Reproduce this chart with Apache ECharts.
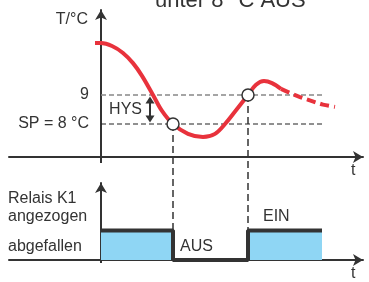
<!DOCTYPE html>
<html>
<head>
<meta charset="utf-8">
<script src="https://cdn.jsdelivr.net/npm/echarts@6/dist/echarts.min.js"></script>
<style>
  html, body { margin: 0; padding: 0; background: #fff; }
  #main { width: 369px; height: 282px; }
</style>
</head>
<body>
<div id="main"></div>
<script>
// Temperaturverlauf [t, T in °C]
var tempSolid = [
  [-0.6, 10.79], [0, 10.79], [1.1, 10.69], [2.2, 10.45], [3.2, 10.10], [4.1, 9.66],
  [5.2, 9.0], [6.1, 8.45], [7.2, 8.0], [8.7, 7.66], [10.2, 7.55], [11.4, 7.66],
  [12.4, 8.0], [13.6, 8.52], [14.7, 9.0], [15.5, 9.35], [16.3, 9.48], [17.1, 9.41], [18.0, 9.21]
];
var tempDashed = [[18.0, 9.21], [18.9, 9.07], [19.9, 8.93], [21.1, 8.79], [22.2, 8.67], [23.4, 8.59]];

var setPoint = 8;      // SP
var hysTop = 9;        // SP + HYS
var refEnd = 22.1;     // Ende der Hilfslinien
var tempTicks = [8, 9];
var tempTickText = ['SP = 8 °C', '9'];

// Schaltpunkte: AUS bei 8 °C, EIN bei 9 °C
var switchPoints = [[7.2, 8], [14.7, 9]];

// Relais K1: 1 = angezogen, 0 = abgefallen
var relay = [[0, 1], [7.2, 1], [7.2, 0], [14.7, 0], [14.7, 1], [22.1, 1]];
var relayTicks = [0.44, 1.48, 2.07];
var relayTickText = ['abgefallen', 'angezogen', 'Relais K1'];
var stateTexts = [
  { name: 'AUS', value: [7.9, 0.44] },
  { name: 'EIN', value: [16.2, 1.48] }
];
var hysLabel = [[4.9, 8.5]];
var hysArrow = [[4.9, 8.83], [4.9, 8.17]];

var font = '"Liberation Sans", Arial, sans-serif';
var ink = '#333';

var chart = echarts.init(document.getElementById('main'));

function xAxisCfg(grid, stub) {
  return {
    gridIndex: grid,
    type: 'value',
    min: -9.2,
    max: 26.2,
    splitLine: { show: false },
    axisLabel: { show: false },
    axisLine: {
      onZero: false,
      symbol: ['none', 'arrow'],
      symbolSize: [9, 10],
      lineStyle: { color: ink, width: 2 }
    },
    axisTick: { show: true, customValues: [0], length: stub, lineStyle: { color: ink, width: 2 } },
    name: 't',
    nameLocation: 'end',
    nameGap: -12,
    nameTextStyle: {
      color: ink, fontSize: 16, fontFamily: font,
      align: 'left', verticalAlign: 'top', padding: [6, 0, 0, 0]
    }
  };
}

function yAxisCfg(grid, min, max) {
  return {
    gridIndex: grid,
    type: 'value',
    min: min,
    max: max,
    offset: -92,   // Achse bei t = 0
    splitLine: { show: false },
    axisTick: { show: false },
    axisLine: {
      show: true,
      onZero: false,
      symbol: ['none', 'arrow'],
      symbolSize: [9, 10],
      lineStyle: { color: ink, width: 2 }
    }
  };
}

var yTemp = yAxisCfg(0, 6.862, 11.931);
yTemp.axisLabel = {
  customValues: tempTicks,
  margin: 12,
  color: ink,
  fontSize: 16,
  fontFamily: font,
  formatter: function (v) { return tempTickText[tempTicks.indexOf(v)]; }
};
yTemp.name = 'T/°C';
yTemp.nameLocation = 'end';
yTemp.nameGap = -10;
yTemp.nameTextStyle = {
  color: ink, fontSize: 16, fontFamily: font,
  align: 'right', verticalAlign: 'middle', padding: [0, 13, 0, 0]
};

var yRelay = yAxisCfg(1, 0, 2.603);
yRelay.axisLabel = {
  customValues: relayTicks,
  margin: 93,
  align: 'left',
  color: ink,
  fontSize: 16,
  fontFamily: font,
  formatter: function (v) { return relayTickText[relayTicks.indexOf(v)]; }
};

var option = {
  animation: false,
  textStyle: { fontFamily: font },
  title: {
    text: 'unter 8 °C AUS',
    left: 155,
    top: -10,
    padding: 0,
    textStyle: { fontSize: 22, fontWeight: 'normal', color: ink, fontFamily: font }
  },
  grid: [
    { left: 9, right: 6, top: 10, height: 147 },
    { left: 9, right: 6, top: 183, bottom: 17 }
  ],
  xAxis: [xAxisCfg(0, 6), xAxisCfg(1, 3)],
  yAxis: [yTemp, yRelay],
  series: [
    {
      name: 'HYS-Grenze',
      type: 'line',
      xAxisIndex: 0, yAxisIndex: 0,
      data: [[0, hysTop], [refEnd, hysTop]],
      symbol: 'none',
      z: 1,
      lineStyle: { color: '#888', width: 1.3, type: [5, 3] }
    },
    {
      name: 'SP',
      type: 'line',
      xAxisIndex: 0, yAxisIndex: 0,
      data: [[0, setPoint], [refEnd, setPoint]],
      symbol: 'none',
      z: 1,
      lineStyle: { color: '#222', width: 1.2, type: [5, 3] }
    },
    {
      name: 'T',
      type: 'line',
      xAxisIndex: 0, yAxisIndex: 0,
      data: tempSolid,
      smooth: 0.35,
      symbol: 'none',
      z: 3,
      lineStyle: { color: '#e8323c', width: 4 }
    },
    {
      name: 'T weiter',
      type: 'line',
      xAxisIndex: 0, yAxisIndex: 0,
      data: tempDashed,
      smooth: 0.35,
      symbol: 'none',
      z: 3,
      lineStyle: { color: '#e8323c', width: 4, type: [9, 5] }
    },
    {
      name: 'HYS',
      type: 'scatter',
      xAxisIndex: 0, yAxisIndex: 0,
      data: hysLabel,
      symbolSize: 0,
      itemStyle: { opacity: 1 },
      label: {
        show: true, position: 'left', distance: 8,
        formatter: 'HYS', color: ink, fontSize: 16, fontFamily: font
      },
      markLine: {
        silent: true,
        symbol: ['triangle', 'triangle'],
        symbolSize: [9, 7],
        label: { show: false },
        lineStyle: { color: ink, width: 2, type: 'solid', opacity: 1 },
        data: [[{ coord: hysArrow[0] }, { coord: hysArrow[1] }]]
      }
    },
    {
      name: 'Schaltpunkte',
      type: 'scatter',
      xAxisIndex: 0, yAxisIndex: 0,
      data: switchPoints,
      symbol: 'circle',
      symbolSize: 12,
      z: 5,
      itemStyle: { color: '#fff', borderColor: ink, borderWidth: 1.5, opacity: 1 }
    },
    {
      name: 'Relais K1',
      type: 'line',
      xAxisIndex: 1, yAxisIndex: 1,
      data: relay,
      symbol: 'none',
      z: 3,
      lineStyle: { color: ink, width: 4 },
      areaStyle: { color: '#8fd6f4', opacity: 1 }
    },
    {
      name: 'Zustand',
      type: 'scatter',
      xAxisIndex: 1, yAxisIndex: 1,
      data: stateTexts,
      symbolSize: 0,
      itemStyle: { opacity: 1 },
      label: {
        show: true, position: 'right', distance: 0,
        formatter: '{b}', color: ink, fontSize: 16, fontFamily: font
      }
    }
  ]
};

chart.setOption(option);

// senkrechte Hilfslinien vom Schaltpunkt bis zum Relaissignal
var drops = switchPoints.map(function (p) {
  var a = chart.convertToPixel({ xAxisIndex: 0, yAxisIndex: 0 }, p);
  var b = chart.convertToPixel({ xAxisIndex: 1, yAxisIndex: 1 }, [p[0], 1]);
  return {
    type: 'line',
    z: 1,
    silent: true,
    shape: { x1: a[0], y1: a[1], x2: b[0], y2: b[1] },
    style: { stroke: ink, lineWidth: 1.5, lineDash: [7, 4] }
  };
});
chart.setOption({ graphic: drops });
</script>
</body>
</html>
